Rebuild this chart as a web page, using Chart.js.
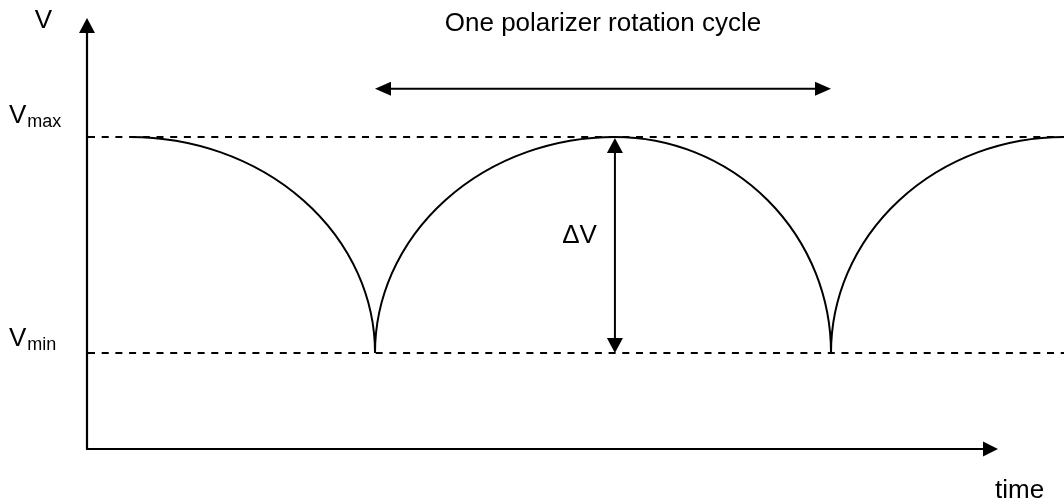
<!DOCTYPE html>
<html>
<head>
<meta charset="utf-8">
<script src="https://cdn.jsdelivr.net/npm/chart.js@4"></script>
<style>
html,body{margin:0;padding:0;background:#ffffff;}
#wrap{width:1064px;height:503px;position:relative;}
</style>
</head>
<body>
<div id="wrap"><canvas id="c"></canvas></div>
<script>
// ---- data (time in arbitrary units, V in arbitrary units) ----
const times = [0.944, 6.323, 11.59, 16.334, 21.449];   // key points: max, min, max, min, max
const voltages = [10, 3.077, 10, 3.077, 10];
const levelValues = [10, 3.077];                       // Vmax, Vmin
const levelNames = ["max", "min"];
const axisLabels = ["V", "time"];
const titleText = "One polarizer rotation cycle";
const deltaLabel = "\u0394V";
const xRange = [0, 20];
const yRange = [0, 13.81];
const cycleArrowLevel = 11.54;

const FONT = "'Liberation Sans', Arial, Helvetica, sans-serif";

function arrowHead(ctx, tx, ty, dx, dy, len, half) {
  const bx = tx - dx * len, by = ty - dy * len;
  const px = -dy, py = dx;
  ctx.beginPath();
  ctx.moveTo(tx, ty);
  ctx.lineTo(bx + px * half, by + py * half);
  ctx.lineTo(bx - px * half, by - py * half);
  ctx.closePath();
  ctx.fill();
}

const drawPlugin = {
  id: 'diagram',
  afterDatasetsDraw(chart) {
    const ctx = chart.ctx;
    const xs = chart.scales.x, ys = chart.scales.y;
    const W = chart.width;
    const x0 = xs.getPixelForValue(xRange[0]);
    const xEnd = xs.getPixelForValue(xRange[1]);
    const y0 = ys.getPixelForValue(yRange[0]);
    const yTop = ys.getPixelForValue(yRange[1]);
    ctx.save();
    ctx.strokeStyle = '#000';
    ctx.fillStyle = '#000';

    // dashed reference levels
    ctx.lineWidth = 2;
    ctx.setLineDash([7, 6.7]);
    levelValues.forEach(v => {
      const y = Math.round(ys.getPixelForValue(v));
      ctx.beginPath();
      ctx.moveTo(x0 + 1, y);
      ctx.lineTo(W, y);
      ctx.stroke();
    });
    ctx.setLineDash([]);

    // curve: quarter-ellipse arcs between consecutive key points
    const meta = chart.getDatasetMeta(0);
    const pts = meta.data;
    ctx.lineWidth = 2;
    ctx.beginPath();
    for (let i = 0; i < pts.length - 1; i++) {
      const a = pts[i], b = pts[i + 1];
      const hi = a.y < b.y ? a : b;
      const lo = a.y < b.y ? b : a;
      const cx = hi.x, cy = lo.y;
      const rx = Math.abs(b.x - a.x), ry = Math.abs(lo.y - hi.y);
      if (a.y < b.y) {
        ctx.moveTo(a.x, a.y);
        ctx.ellipse(cx, cy, rx, ry, 0, -Math.PI / 2, 0, false);
      } else {
        ctx.moveTo(a.x, a.y);
        ctx.ellipse(cx, cy, rx, ry, 0, Math.PI, Math.PI * 1.5, false);
      }
    }
    ctx.stroke();

    // axes with arrows
    ctx.lineWidth = 2.2;
    ctx.beginPath();
    ctx.moveTo(x0, y0);
    ctx.lineTo(x0, yTop + 10);
    ctx.moveTo(x0 - 1, y0);
    ctx.lineTo(xEnd - 10, y0);
    ctx.stroke();
    arrowHead(ctx, x0, yTop, 0, -1, 15, 8);
    arrowHead(ctx, xEnd, y0, 1, 0, 15, 7.5);

    // cycle double arrow (cusp to cusp)
    const cA = pts[1].x, cB = pts[3].x;
    const cy = ys.getPixelForValue(cycleArrowLevel);
    ctx.lineWidth = 2;
    ctx.beginPath();
    ctx.moveTo(cA + 10, cy);
    ctx.lineTo(cB - 10, cy);
    ctx.stroke();
    arrowHead(ctx, cA, cy, -1, 0, 16, 7);
    arrowHead(ctx, cB, cy, 1, 0, 16, 7);

    // delta V arrow at peak
    const dx = pts[2].x;
    const yMax = ys.getPixelForValue(levelValues[0]);
    const yMin = ys.getPixelForValue(levelValues[1]);
    ctx.beginPath();
    ctx.moveTo(dx, yMax + 10);
    ctx.lineTo(dx, yMin - 10);
    ctx.stroke();
    arrowHead(ctx, dx, yMax + 1, 0, -1, 15, 8);
    arrowHead(ctx, dx, yMin, 0, 1, 15, 8);

    // texts
    ctx.textBaseline = 'alphabetic';
    ctx.font = '26px ' + FONT;
    ctx.textAlign = 'center';
    ctx.fillText(titleText, (cA + cB) / 2, 31);

    ctx.textAlign = 'right';
    ctx.fillText(axisLabels[0], x0 - 35, yTop + 10);
    ctx.fillText(deltaLabel, dx - 18, (yMax + yMin) / 2 - 2);

    ctx.textAlign = 'left';
    ctx.fillText(axisLabels[1], xEnd - 3, y0 + 49);

    const vOffsets = [14, 7];
    levelValues.forEach((v, i) => {
      const y = ys.getPixelForValue(v) - vOffsets[i];
      ctx.font = '26px ' + FONT;
      ctx.fillText('V', 9, y);
      const w = ctx.measureText('V').width;
      ctx.font = '18px ' + FONT;
      ctx.fillText(levelNames[i], 9 + w + 1, y + 4);
    });
    ctx.restore();
  }
};

new Chart(document.getElementById('c'), {
  type: 'line',
  data: {
    datasets: [{
      data: times.map((t, i) => ({ x: t, y: voltages[i] })),
      showLine: false,
      pointRadius: 0,
      borderColor: '#000',
      clip: false
    }]
  },
  options: {
    responsive: true,
    maintainAspectRatio: false,
    devicePixelRatio: 1,
    animation: false,
    layout: { padding: { left: 87, right: 66, top: 18, bottom: 54 } },
    plugins: { legend: { display: false }, tooltip: { enabled: false }, title: { display: false } },
    scales: {
      x: { type: 'linear', min: xRange[0], max: xRange[1], display: false },
      y: { type: 'linear', min: yRange[0], max: yRange[1], display: false }
    },
    events: []
  },
  plugins: [drawPlugin]
});
</script>
</body>
</html>
